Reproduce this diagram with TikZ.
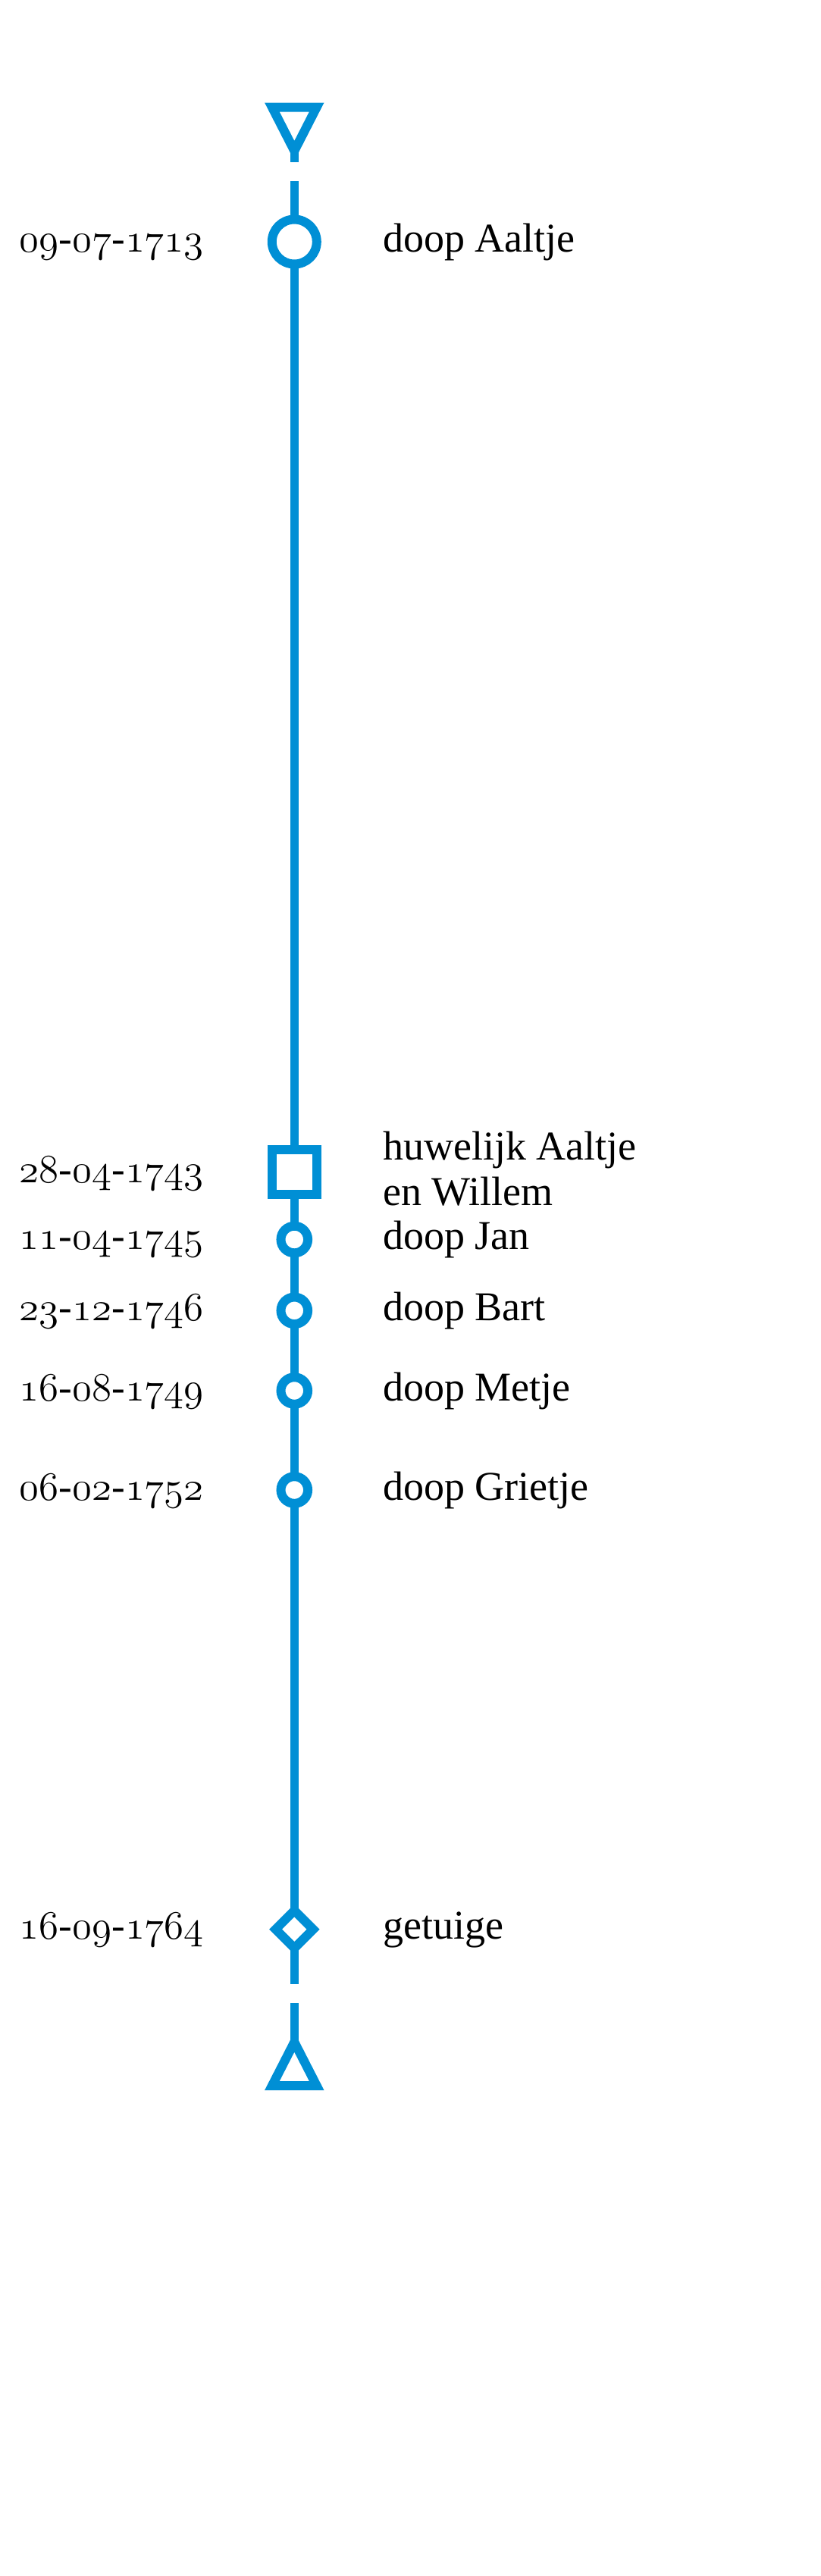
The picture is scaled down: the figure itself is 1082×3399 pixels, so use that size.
\documentclass[tikz,border=0pt]{standalone}
\usepackage{fontspec}
\setmainfont{Liberation Serif}
\usepackage{tikz}
\usetikzlibrary{shapes.geometric,positioning}
\definecolor{lijn}{HTML}{008FD5}
% old style figures, scaled freely
\DeclareFontFamily{OML}{osn}{\skewchar\font127 }
\DeclareFontShape{OML}{osn}{m}{it}{<-> cmmi12}{}
\newcommand{\osn}[1]{{\fontsize{53}{53}\usefont{OML}{osn}{m}{it}#1}}
\newcommand{\datum}[3]{{\fontsize{53}{53}\selectfont\osn{#1}-\osn{#2}-\osn{#3}}}

\begin{document}
\begin{tikzpicture}[x=1pt,y=-1pt,font=\fontsize{54}{60}\selectfont]
\tikzset{gebeurtenis/.style={draw=lijn,line width=12pt,fill=white,inner sep=0pt,outer sep=0pt}, doopgroot/.style={gebeurtenis,circle,minimum size=59pt}, doopklein/.style={gebeurtenis,circle,minimum size=35.6pt}, trouw/.style={gebeurtenis,rectangle,minimum size=59pt}, ruit/.style={gebeurtenis,diamond,aspect=1,minimum size=49.6pt}, tijdlijn/.style={draw=lijn,line width=11pt}, eind/.style={draw=lijn,line width=12pt}, datum/.style={anchor=base east,inner sep=0pt}, tekst/.style={anchor=base west,inner sep=0pt,align=left}}
\fill[white] (0,0) rectangle (1082,3399);
\useasboundingbox (0,0) rectangle (1082,3399);
% events
\node[doopgroot] (aaltje) at (388.3,319) {};
\node[trouw] (huw) at (388.3,1546.7) {};
\node[doopklein] (jan) at (388.3,1635.5) {};
\node[doopklein] (bart) at (388.3,1729.3) {};
\node[doopklein] (metje) at (388.3,1835) {};
\node[doopklein] (grietje) at (388.3,1966) {};
\node[ruit] (getuige) at (388.3,2545.7) {};
% ends of the line
\coordinate (boven) at (388.3,199);
\coordinate (bovenstop) at (388.3,214);
\coordinate (bovenstart) at (388.3,239);
\coordinate (onderstop) at (388.3,2617.7);
\coordinate (onderstart) at (388.3,2643.3);
\coordinate (onder) at (388.3,2694.5);
\draw[eind] (358.9,141.5)--(417.7,141.5)--(boven)--cycle;
\draw[eind] (358.9,2752)--(417.7,2752)--(onder)--cycle;
\draw[tijdlijn] (boven)--(bovenstop);
\draw[tijdlijn] (bovenstart)--(aaltje);
\draw[tijdlijn] (aaltje)--(huw);\draw[tijdlijn] (huw)--(jan);\draw[tijdlijn] (jan)--(bart);
\draw[tijdlijn] (bart)--(metje);\draw[tijdlijn] (metje)--(grietje);\draw[tijdlijn] (grietje)--(getuige);
\draw[tijdlijn] (getuige)--(onderstop);
\draw[tijdlijn] (onderstart)--(onder);
% dates
\node[datum] (d1) at (269,332) {\datum{09}{07}{1713}};
\node[datum] (d2) at (269,1560) {\datum{28}{04}{1743}};
\node[datum] (d3) at (269,1648.5) {\datum{11}{04}{1745}};
\node[datum] (d4) at (269,1742.3) {\datum{23}{12}{1746}};
\node[datum] (d5) at (269,1848) {\datum{16}{08}{1749}};
\node[datum] (d6) at (269,1979) {\datum{06}{02}{1752}};
\node[datum] (d7) at (269,2558.7) {\datum{16}{09}{1764}};
% labels
\node[tekst] (t1) at (505,332) {doop Aaltje};
\node[tekst] (t2) at (505,1590) {huwelijk Aaltje\\en Willem};
\node[tekst] (t3) at (505,1648.5) {doop Jan};
\node[tekst] (t4) at (505,1742.3) {doop Bart};
\node[tekst] (t5) at (505,1848) {doop Metje};
\node[tekst] (t6) at (505,1979) {doop Grietje};
\node[tekst] (t7) at (505,2558.7) {getuige};
\end{tikzpicture}
\end{document}
